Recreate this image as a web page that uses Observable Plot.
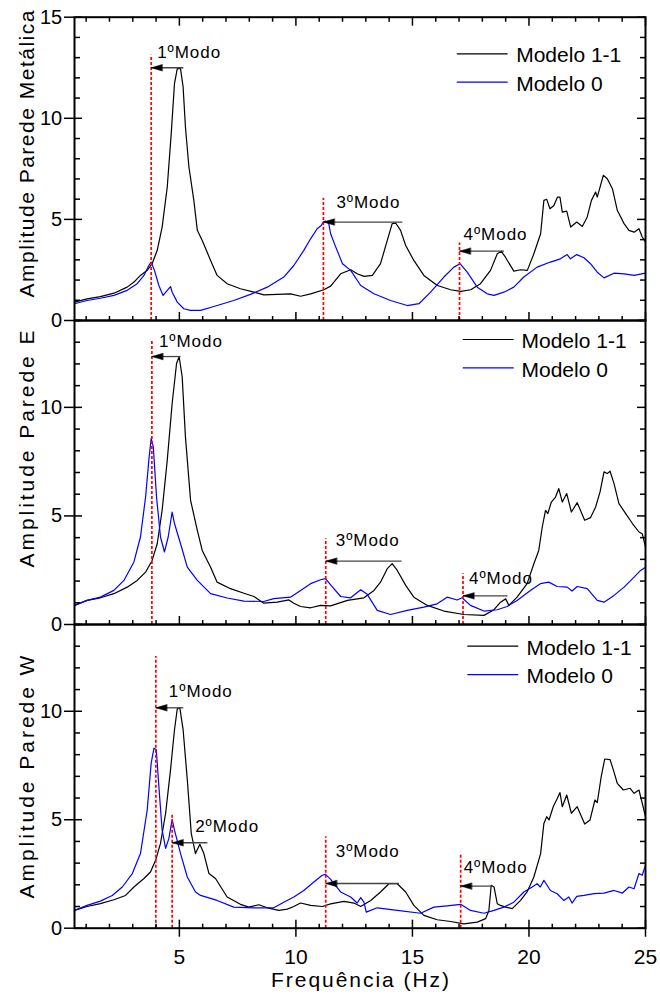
<!DOCTYPE html>
<html><head><meta charset="utf-8">
<script src="https://cdn.jsdelivr.net/npm/d3@7"></script>
<script src="https://cdn.jsdelivr.net/npm/@observablehq/plot@0.6"></script>
<style>
body{margin:0;background:#fff;}
#chart{position:relative;width:660px;height:996px;}
#chart svg{position:absolute;left:0;overflow:visible;}
</style></head><body><div id="chart"></div>
<script>
// ---------------- DATA ----------------
const seriesNames = ["Modelo 1-1", "Modelo 0"];
const seriesColors = ["black", "#0000ff"];
const xMajorTicks = [5, 10, 15, 20, 25];
const xMinorTicks = [1,2,3,4,6,7,8,9,11,12,13,14,16,17,18,19,21,22,23,24];
const yTitles = ["Amplitude Parede Metálica", "Amplitude Parede E", "Amplitude Parede W"];
const xTitle = "Frequência (Hz)";

// Parede Metálica
const metalM11 = [[0.5,0.91],[1.04,1.07],[1.61,1.18],[2.19,1.35],[2.76,1.65],[3.05,1.90],[3.33,2.23],[3.62,2.48],[3.83,2.81],[4.05,3.47],[4.26,4.62],[4.48,6.60],[4.65,9.24],[4.79,11.72],[4.91,12.46],[5.05,12.46],[5.16,11.55],[5.26,9.57],[5.41,7.59],[5.62,5.94],[5.77,4.46],[5.98,3.96],[6.34,2.97],[6.62,2.23],[7.05,1.82],[7.62,1.57],[8.20,1.40],[8.62,1.27],[9.20,1.29],[9.77,1.32],[10.20,1.20],[10.63,1.32],[11.20,1.52],[11.49,1.70],[11.92,2.31],[12.35,2.51],[12.63,2.31],[12.92,2.18],[13.28,2.23],[13.63,2.81],[13.92,3.96],[14.13,4.79],[14.28,4.82],[14.49,4.46],[14.71,3.71],[15.06,2.97],[15.49,2.23],[16.07,1.73],[16.64,1.52],[17.07,1.44],[17.50,1.52],[17.92,1.82],[18.35,2.48],[18.64,3.30],[18.81,3.43],[18.99,3.13],[19.35,2.44],[19.64,2.51],[19.93,2.48],[20.21,3.30],[20.50,4.29],[20.64,5.94],[20.76,6.0],[20.90,5.53],[21.07,5.69],[21.22,6.10],[21.33,6.10],[21.43,5.36],[21.62,5.41],[21.79,4.62],[22.05,4.87],[22.29,4.65],[22.50,5.12],[22.68,5.94],[22.86,6.35],[22.93,6.10],[23.05,6.60],[23.19,7.18],[23.36,7.01],[23.58,6.52],[23.79,5.45],[24.08,4.79],[24.29,4.46],[24.51,4.37],[24.72,4.54],[24.86,4.13],[25.0,3.88]];
const metalM0 = [[0.5,0.83],[1.04,0.99],[1.61,1.10],[2.19,1.24],[2.76,1.49],[3.19,1.82],[3.48,2.23],[3.69,2.72],[3.79,2.89],[3.93,2.48],[4.12,1.73],[4.30,1.24],[4.48,1.49],[4.62,1.68],[4.69,1.40],[4.91,0.91],[5.19,0.58],[5.48,0.50],[5.91,0.50],[6.48,0.69],[7.33,0.99],[8.05,1.29],[8.77,1.65],[9.48,2.15],[9.91,2.72],[10.34,3.47],[10.63,4.04],[10.91,4.54],[11.09,4.70],[11.17,4.87],[11.27,4.92],[11.41,4.79],[11.49,4.29],[11.71,3.63],[12.0,2.81],[12.35,2.48],[12.78,1.73],[13.35,1.32],[14.06,0.99],[14.78,0.74],[15.28,0.83],[15.78,1.40],[16.35,2.15],[16.78,2.64],[17.04,2.81],[17.35,2.39],[17.78,1.65],[18.21,1.32],[18.50,1.24],[18.92,1.40],[19.35,1.65],[19.78,2.15],[20.35,2.64],[20.92,2.89],[21.35,3.05],[21.64,3.26],[21.78,3.05],[22.05,3.26],[22.36,3.10],[22.64,2.81],[22.93,2.39],[23.22,2.11],[23.65,2.34],[24.08,2.31],[24.51,2.23],[25.0,2.34]];

// Parede E
const eastM11 = [[0.5,0.88],[1.04,1.11],[1.61,1.23],[2.19,1.42],[2.76,1.72],[3.19,2.03],[3.55,2.41],[3.83,2.95],[4.05,3.72],[4.26,5.26],[4.48,7.57],[4.69,10.18],[4.88,12.03],[4.99,12.33],[5.12,11.41],[5.26,8.64],[5.48,5.72],[5.77,4.34],[5.98,3.41],[6.34,2.64],[6.62,1.95],[7.19,1.65],[7.77,1.44],[8.20,1.29],[8.62,0.98],[9.20,1.03],[9.70,1.13],[9.91,0.98],[10.20,0.83],[10.63,0.77],[11.06,0.88],[11.49,0.86],[12.21,1.11],[12.92,1.23],[13.35,1.57],[13.63,1.95],[13.92,2.57],[14.13,2.80],[14.35,2.49],[14.71,1.80],[15.06,1.26],[15.64,0.88],[16.35,0.62],[17.21,0.46],[18.07,0.42],[18.50,0.68],[18.78,1.03],[19.0,1.18],[19.14,0.88],[19.49,1.26],[19.92,1.88],[20.21,2.80],[20.42,3.41],[20.57,4.49],[20.71,5.26],[20.81,5.11],[20.96,5.64],[21.14,5.87],[21.28,6.26],[21.43,5.64],[21.62,6.03],[21.82,5.18],[22.07,5.61],[22.39,4.80],[22.64,4.92],[22.86,5.41],[23.05,6.11],[23.22,7.03],[23.36,6.95],[23.48,7.06],[23.65,6.49],[23.86,5.57],[24.15,5.11],[24.44,4.65],[24.72,4.26],[24.86,4.18],[25.0,3.57]];
const eastM0 = [[0.5,0.88],[1.04,1.11],[1.61,1.26],[2.19,1.57],[2.62,2.03],[3.05,2.88],[3.33,4.03],[3.55,5.87],[3.69,7.57],[3.79,8.57],[3.88,8.19],[4.02,5.87],[4.19,4.03],[4.36,3.34],[4.52,4.03],[4.69,5.18],[4.79,4.65],[5.05,3.72],[5.34,2.64],[5.77,2.03],[6.34,1.42],[7.05,1.22],[7.77,1.08],[8.62,1.06],[9.05,1.19],[9.77,1.26],[10.20,1.57],[10.63,1.88],[11.06,2.06],[11.27,2.11],[11.49,1.82],[11.92,1.29],[12.35,1.23],[12.78,1.60],[13.06,1.39],[13.49,0.65],[14.06,0.46],[14.78,0.65],[15.49,0.80],[16.06,0.95],[16.49,1.26],[16.92,1.13],[17.13,1.23],[17.49,0.88],[18.07,0.62],[18.64,0.68],[19.06,0.83],[19.49,1.11],[20.06,1.57],[20.49,1.88],[20.85,1.95],[21.21,1.75],[21.64,1.72],[21.85,1.54],[22.07,1.75],[22.50,1.65],[22.93,1.11],[23.22,1.03],[23.65,1.34],[24.08,1.72],[24.51,2.18],[24.79,2.49],[25.0,2.64]];

// Parede W
const westM11 = [[0.5,0.82],[1.04,1.00],[1.61,1.13],[2.19,1.31],[2.69,1.51],[3.05,1.90],[3.48,2.29],[3.76,2.59],[3.98,3.13],[4.19,3.91],[4.41,5.30],[4.62,7.30],[4.79,9.15],[4.91,10.11],[5.02,10.16],[5.16,9.15],[5.34,6.84],[5.51,4.37],[5.69,3.44],[5.88,3.87],[6.05,3.44],[6.27,2.52],[6.55,2.29],[7.05,1.44],[7.62,1.10],[7.98,0.97],[8.41,1.08],[8.77,0.94],[9.27,0.82],[9.63,0.88],[9.91,1.00],[10.20,1.16],[10.63,1.05],[11.13,1.00],[11.49,1.12],[12.06,1.24],[12.49,1.16],[12.78,1.00],[13.21,1.28],[13.63,1.67],[13.99,2.05],[14.35,2.05],[14.71,1.67],[15.06,1.05],[15.49,0.59],[16.06,0.39],[16.64,0.31],[17.21,0.20],[17.78,0.28],[18.14,0.44],[18.28,0.82],[18.38,1.98],[18.50,1.90],[18.64,1.13],[18.78,1.05],[19.0,0.97],[19.28,0.90],[19.64,1.28],[19.92,1.67],[20.21,2.36],[20.50,3.44],[20.64,4.83],[20.76,5.14],[20.86,4.99],[21.04,5.60],[21.22,5.99],[21.33,6.25],[21.43,5.60],[21.62,6.14],[21.82,5.30],[22.07,5.60],[22.39,4.80],[22.62,4.99],[22.83,5.91],[22.93,5.79],[23.10,6.99],[23.25,7.80],[23.48,7.77],[23.62,7.30],[23.79,6.68],[24.05,6.37],[24.34,6.45],[24.51,6.22],[24.72,6.37],[24.86,5.76],[25.0,5.14]];
const westM0 = [[0.5,0.82],[1.04,1.05],[1.61,1.25],[2.12,1.51],[2.55,1.90],[2.98,2.52],[3.33,3.44],[3.62,5.45],[3.79,7.61],[3.91,8.30],[4.01,8.23],[4.12,6.53],[4.26,4.52],[4.41,3.68],[4.55,4.14],[4.69,5.02],[4.79,4.52],[5.05,3.44],[5.34,2.36],[5.69,1.67],[5.91,1.51],[6.62,1.28],[7.33,0.97],[8.19,0.94],[9.05,0.94],[9.48,1.20],[9.91,1.44],[10.34,1.74],[10.77,2.13],[11.13,2.44],[11.27,2.48],[11.49,2.25],[11.92,1.67],[12.35,1.44],[12.63,1.16],[12.78,1.41],[12.92,1.20],[13.02,0.74],[13.49,0.94],[14.35,0.82],[15.35,0.69],[15.92,0.97],[16.49,1.03],[17.07,1.10],[17.49,0.82],[18.07,0.69],[18.50,0.82],[18.92,0.97],[19.35,1.20],[19.78,1.67],[20.14,1.90],[20.35,2.05],[20.49,1.90],[20.64,2.21],[20.92,1.74],[21.21,1.59],[21.49,1.28],[21.71,1.44],[21.85,1.16],[22.05,1.47],[22.36,1.51],[22.79,1.59],[23.22,1.62],[23.65,1.74],[24.01,1.62],[24.29,1.90],[24.51,1.82],[24.72,2.52],[24.86,2.44],[25.0,2.90]];

// Modes: label, red-line frequency, red-line top, Modelo 1-1 peak frequency & amplitude
const metalModes = [
  {label:"1ºModo", f:3.79, top:13.12, peakF:5.17, peakA:12.5},
  {label:"3ºModo", f:11.18, top:6.04, peakF:14.57, peakA:4.87},
  {label:"4ºModo", f:17.02, top:3.83, peakF:18.93, peakA:3.43}
];
const eastModes = [
  {label:"1ºModo", f:3.82, top:13.1, peakF:5.05, peakA:12.34},
  {label:"3ºModo", f:11.28, top:3.95, peakF:14.53, peakA:2.92},
  {label:"4ºModo", f:17.17, top:2.34, peakF:19.08, peakA:1.32}
];
const westModes = [
  {label:"1ºModo", f:3.99, top:12.52, peakF:5.17, peakA:10.16},
  {label:"2ºModo", f:4.69, top:5.26, peakF:6.20, peakA:3.94},
  {label:"3ºModo", f:11.28, top:4.21, peakF:14.42, peakA:2.06},
  {label:"4ºModo", f:17.07, top:3.41, peakF:18.43, peakA:1.94}
];

// ---------------- LAYOUT ----------------
const W = 660, ML = 74, MR = 15;
const plotW = W - ML - MR;
const FONT = "'Liberation Sans', Arial, Helvetica, sans-serif";
const panels = [
  {title: yTitles[0], m11: metalM11, m0: metalM0, modes: metalModes, yMax: 15, yLabels: [0,5,10,15],
   top: 0, height: 320, mt: 16.7, mb: 0, titleDy: -14.8, titleLen: 287,
   labelOff: [[6,-10],[13,-14.4],[4,-10.7]], leg: {dx: 382.7, dy: 36.6, tdx: 441.7}},
  {title: yTitles[1], m11: eastM11, m0: eastM0, modes: eastModes, yMax: 14, yLabels: [0,5,10],
   top: 320, height: 304, mt: 0, mb: 0, titleDy: -23.5, titleLen: 237,
   labelOff: [[7,-10],[10,-14.7],[6,-12]], leg: {dx: 388.7, dy: 19, tdx: 447}},
  {title: yTitles[2], m11: westM11, m0: westM0, modes: westModes, yMax: 14, yLabels: [0,5,10],
   top: 624, height: 372, mt: 0, mb: 68.3, titleDy: 0.7, titleLen: 243,
   labelOff: [[13,-11],[23,-11],[10,-27],[3,-13]], leg: {dx: 393.3, dy: 21.7, tdx: 452}, xAxis: true}
];

const headShape = {draw(ctx, l) { ctx.moveTo(-3.2, 0); ctx.lineTo(0, -l); ctx.lineTo(3.2, 0); ctx.closePath(); }};
const lineShape = {draw(ctx, l) { ctx.moveTo(0, 0); ctx.lineTo(0, -l); }};
const blank = () => "";

const root = document.getElementById("chart");

panels.forEach((p, pi) => {
  const plotH = p.height - p.mt - p.mb;
  const yMajor = d3.range(0, p.yMax + 1, 5);
  const yMinor = d3.range(1, p.yMax + 1).filter(v => v % 5 !== 0);
  const marks = [
    // curves
    Plot.line(p.m11, {x: d => d[0], y: d => d[1], stroke: seriesColors[0], strokeWidth: 1.2}),
    Plot.line(p.m0, {x: d => d[0], y: d => d[1], stroke: seriesColors[1], strokeWidth: 1.2}),
    // mode markers
    Plot.ruleX(p.modes, {x: "f", y1: 0, y2: "top", stroke: "#ff0000", strokeWidth: 1.7, strokeDasharray: "3,2"}),
    Plot.link(p.modes, {x1: "peakF", y1: "peakA", x2: "f", y2: "peakA", stroke: "#444", strokeWidth: 1.3}),
    Plot.vector(p.modes, {x: "f", y: "peakA", rotate: -90, length: 11, anchor: "end", shape: headShape, fill: "black", stroke: "black", strokeWidth: 0.5}),
    ...p.modes.map((m, i) => Plot.text([m], {x: "f", y: "peakA", text: "label", dx: p.labelOff[i][0], dy: p.labelOff[i][1],
      textAnchor: "start", lineAnchor: "bottom", fontSize: 17, fill: "black"})),
    // legend
    ...seriesNames.flatMap((name, i) => [
      Plot.vector([name], {frameAnchor: "top-left", dx: p.leg.dx, dy: p.leg.dy + i * 28.4, rotate: 90, length: 50,
        anchor: "start", shape: lineShape, stroke: seriesColors[i], strokeWidth: 1.2}),
      Plot.text([name], {frameAnchor: "top-left", dx: p.leg.tdx, dy: p.leg.dy + i * 28.4 + 8.6, text: d => d,
        textAnchor: "start", lineAnchor: "bottom", fontSize: 21, fill: "black"})
    ]),
    // y title
    Plot.text([p.title], {frameAnchor: "left", text: d => d, rotate: -90, dx: -40.7, dy: p.titleDy,
      textAnchor: "middle", lineAnchor: "bottom", fontSize: 21, fill: "black"}),
    // left axis: labels + outward major ticks
    Plot.axisY({anchor: "left", ticks: p.yLabels, tickSize: 10, tickPadding: 2.3, fontSize: 20, label: null, strokeWidth: 1.5}),
    Plot.axisY({anchor: "left", ticks: yMajor.filter(v => !p.yLabels.includes(v)), tickSize: 10, tickFormat: blank, label: null, strokeWidth: 1.5}),
    // left inward ticks
    Plot.axisY({anchor: "right", ticks: yMajor, tickSize: 7, tickFormat: blank, label: null, dx: -plotW, strokeWidth: 1.5}),
    Plot.axisY({anchor: "right", ticks: yMinor, tickSize: 5, tickFormat: blank, label: null, dx: -plotW, strokeWidth: 1.5}),
    // right inward ticks
    Plot.axisY({anchor: "left", ticks: yMajor, tickSize: 8, tickFormat: blank, label: null, dx: plotW, strokeWidth: 1.5}),
    Plot.axisY({anchor: "left", ticks: yMinor, tickSize: 5, tickFormat: blank, label: null, dx: plotW, strokeWidth: 1.5}),
    // bottom inward ticks
    Plot.axisX({anchor: "top", ticks: xMajorTicks, tickSize: 9, tickFormat: blank, label: null, dy: plotH, strokeWidth: 1.5}),
    Plot.axisX({anchor: "top", ticks: xMinorTicks, tickSize: 5, tickFormat: blank, label: null, dy: plotH, strokeWidth: 1.5}),
    Plot.frame({stroke: "black", strokeWidth: 2})
  ];
  if (pi === 0) {
    marks.push(
      Plot.axisX({anchor: "bottom", ticks: xMajorTicks, tickSize: 9, tickFormat: blank, label: null, dy: -plotH, strokeWidth: 1.5}),
      Plot.axisX({anchor: "bottom", ticks: xMinorTicks, tickSize: 5, tickFormat: blank, label: null, dy: -plotH, strokeWidth: 1.5})
    );
  }
  if (p.xAxis) {
    marks.push(
      Plot.axisX({anchor: "bottom", ticks: xMajorTicks, tickSize: 9, tickPadding: 11.7, fontSize: 21, label: null, strokeWidth: 1.5}),
      Plot.text([xTitle], {frameAnchor: "bottom", text: d => d, dy: 59, textAnchor: "middle", lineAnchor: "bottom", fontSize: 21, fill: "black"})
    );
  }
  const svg = Plot.plot({
    width: W, height: p.height,
    marginLeft: ML, marginRight: MR, marginTop: p.mt, marginBottom: p.mb,
    x: {domain: [0.5, 25]},
    y: {domain: [0, p.yMax]},
    style: {fontFamily: FONT, fontSize: "16px", color: "black", background: "transparent", overflow: "visible"},
    marks
  });
  svg.style.top = p.top + "px";
  d3.select(svg).selectAll("text").each(function() {
    const t = this.textContent;
    if (t === p.title) d3.select(this).attr("textLength", p.titleLen).attr("lengthAdjust", "spacing");
    else if (t === xTitle) d3.select(this).attr("textLength", 178).attr("lengthAdjust", "spacing");
    else if (/Modo$/.test(t)) d3.select(this).attr("textLength", 63).attr("lengthAdjust", "spacing");
  });
  root.appendChild(svg);
});
</script></body></html>
